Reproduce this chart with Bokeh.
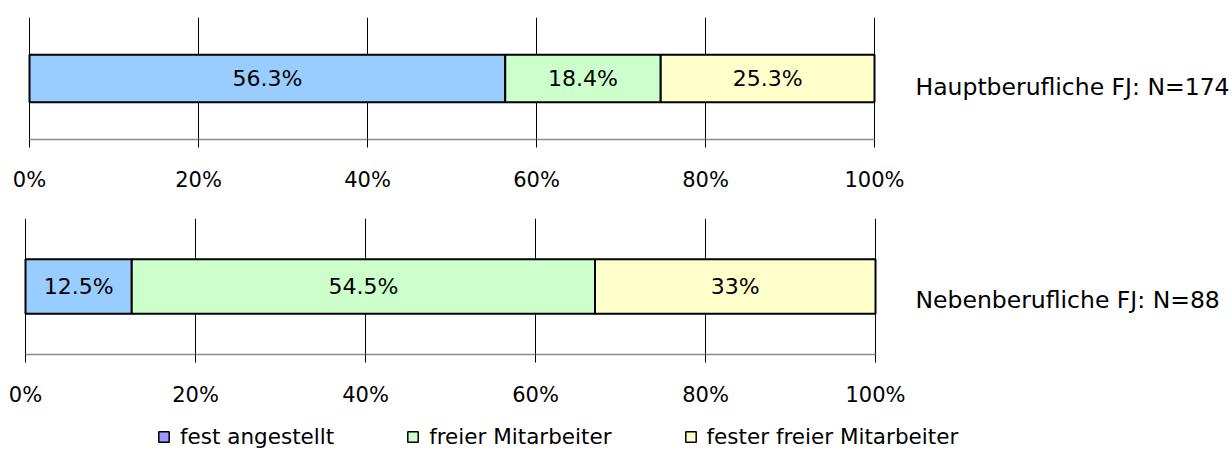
from bokeh.plotting import figure
from bokeh.layouts import column
from bokeh.models import (Range1d, FixedTicker, PrintfTickFormatter, Label,
                          Legend, LegendItem, ColumnDataSource)
from bokeh.embed import file_html
from bokeh.resources import INLINE

# ---- data ----
categories = ["fest angestellt", "freier Mitarbeiter", "fester freier Mitarbeiter"]
haupt_values = [56.3, 18.4, 25.3]
neben_values = [12.5, 54.5, 33]
group_labels = ["Hauptberufliche FJ: N=174", "Nebenberufliche FJ: N=88"]
x_ticks = [0, 20, 40, 60, 80, 100]

bar_colors = ["#99CCFF", "#CCFFCC", "#FFFFCC"]
legend_colors = ["#9999FF", "#CCFFCC", "#FFFFCC"]
FONT = "DejaVu Sans"
W = 1232


def make_fig(values, label, height, border_top, border_bottom, x0_px, x100_px,
             bar_h, label_dx, label_dy):
    ppu = (x100_px - x0_px) / 100.0
    xr = Range1d(-x0_px / ppu, (W - x0_px) / ppu)
    p = figure(width=W, height=height, output_backend="svg",
               toolbar_location=None, x_range=xr, y_range=Range1d(0, 1),
               min_border_top=border_top, min_border_bottom=border_bottom,
               min_border_left=0, min_border_right=0, y_axis_location=None)
    p.outline_line_color = None
    p.background_fill_color = "white"
    p.border_fill_color = "white"
    p.ygrid.visible = False
    p.xgrid.ticker = FixedTicker(ticks=x_ticks)
    p.xgrid.grid_line_color = "black"
    p.xgrid.grid_line_width = 1
    ax = p.xaxis[0]
    ax.bounds = (x_ticks[0], x_ticks[-1])
    ax.ticker = FixedTicker(ticks=x_ticks)
    ax.formatter = PrintfTickFormatter(format="%d%%")
    ax.axis_line_color = "#8a8a8a"
    ax.axis_line_width = 1.5
    ax.major_tick_line_color = "black"
    ax.major_tick_out = 8
    ax.major_tick_in = 0
    ax.minor_tick_line_color = None
    ax.major_label_text_font = FONT
    ax.major_label_text_font_size = "21px"
    ax.major_label_text_color = "black"
    ax.major_label_standoff = 20

    lefts, rights, cum = [], [], 0.0
    for v in values:
        lefts.append(cum)
        cum += v
        rights.append(cum)
    src = ColumnDataSource(dict(
        left=lefts, right=rights, y=[0.5] * len(values),
        mid=[(a + b) / 2 for a, b in zip(lefts, rights)],
        color=bar_colors, txt=["{:g}%".format(v) for v in values]))
    p.hbar(y="y", left="left", right="right", height=bar_h, source=src,
           fill_color="color", line_color="black", line_width=2)
    p.text(x="mid", y="y", text="txt", source=src, text_align="center",
           text_baseline="middle", text_font_size="22px",
           text_font={"value": FONT}, text_color="black")
    p.add_layout(Label(x=x_ticks[-1], y=0.5, x_offset=label_dx,
                       y_offset=label_dy, text=label, text_font=FONT,
                       text_font_size="23.5px", text_baseline="middle",
                       text_color="black"))
    return p


p1 = make_fig(haupt_values, group_labels[0], 200, 17, 61, 29, 874, 0.39, 41, -8)
p2 = make_fig(neben_values, group_labels[1], 220, 18, 66, 25, 875, 0.40, 40, -13)

# legend strip (swatch glyphs sit outside the visible range; only the legend shows them)
p3 = figure(width=W, height=30, output_backend="svg", toolbar_location=None,
            x_range=Range1d(0, 1), y_range=Range1d(0, 1), min_border_top=0,
            min_border_bottom=0, min_border_left=0, min_border_right=0,
            x_axis_location=None, y_axis_location=None)
p3.outline_line_color = None
p3.xgrid.visible = False
p3.ygrid.visible = False
items = []
for name, col in zip(categories, legend_colors):
    r = p3.quad(left=[-3], right=[-2], top=[-2], bottom=[-3], fill_color=col,
                line_color="black", line_width=1.5)
    items.append(LegendItem(label=name, renderers=[r]))
leg = Legend(items=items, orientation="horizontal", location=(157, 1),
             glyph_width=13, glyph_height=13, label_standoff=10, spacing=72,
             padding=0, margin=0, border_line_color=None,
             background_fill_alpha=0, label_text_font=FONT,
             label_text_font_size="21.5px", label_height=20,
             label_text_color="black", label_text_baseline="middle")
p3.add_layout(leg, "center")

layout = column(p1, p2, p3)
open("out.html", "w").write(file_html(layout, INLINE))
